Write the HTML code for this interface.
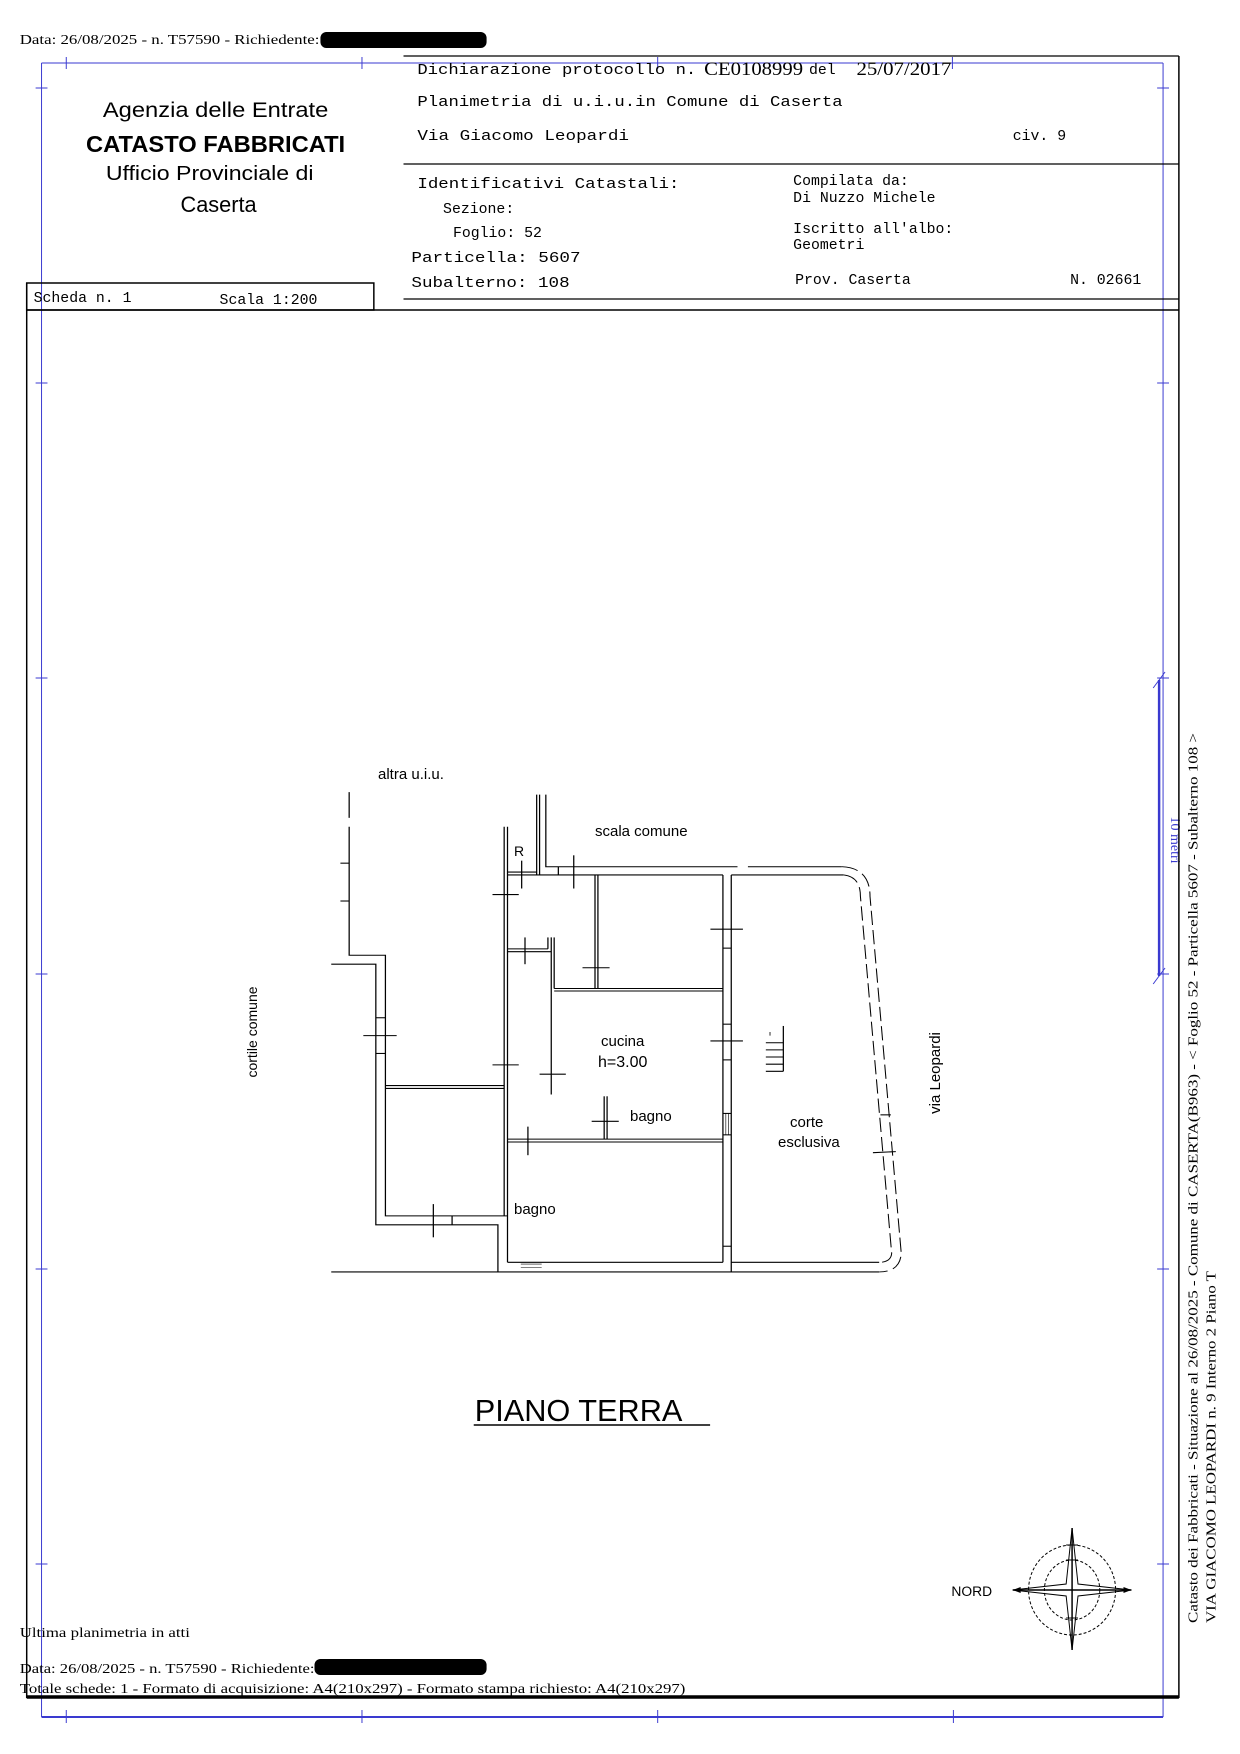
<!DOCTYPE html>
<html><head><meta charset="utf-8"><style>
html,body{margin:0;padding:0;background:#fff;}
svg{display:block}
.m{font-family:"Liberation Mono",monospace;font-size:15px;fill:#000}
.t{font-family:"Liberation Serif",serif;fill:#000}
.s{font-family:"Liberation Sans",sans-serif;fill:#000}
</style></head><body>
<svg width="1240" height="1754" viewBox="0 0 1240 1754" xmlns="http://www.w3.org/2000/svg">
<g transform="scale(0.989,1)">
<text class="t" x="20" y="44" font-size="14" textLength="303" lengthAdjust="spacingAndGlyphs">Data: 26/08/2025 - n. T57590 - Richiedente:</text>
<rect x="324" y="32" width="168" height="16" rx="6" fill="#000"/>

<g stroke="#3a3ad0" stroke-width="1" fill="none">
<line x1="42" y1="63" x2="1176" y2="63"/>
<line x1="42" y1="63" x2="42" y2="1717"/>
<line x1="1176" y1="63" x2="1176" y2="1717"/>
<line x1="42" y1="1717" x2="1176" y2="1717" stroke-width="2"/>
<line x1="67" y1="57" x2="67" y2="69"/><line x1="366" y1="57" x2="366" y2="69"/><line x1="665" y1="57" x2="665" y2="69"/><line x1="963" y1="57" x2="963" y2="69"/>
<line x1="67" y1="1710" x2="67" y2="1723"/><line x1="366" y1="1710" x2="366" y2="1723"/><line x1="665" y1="1710" x2="665" y2="1723"/><line x1="964" y1="1710" x2="964" y2="1723"/>
<line x1="36" y1="88" x2="48" y2="88"/><line x1="36" y1="383" x2="48" y2="383"/><line x1="36" y1="678" x2="48" y2="678"/><line x1="36" y1="974" x2="48" y2="974"/><line x1="36" y1="1269" x2="48" y2="1269"/><line x1="36" y1="1564" x2="48" y2="1564"/>
<line x1="1170" y1="88" x2="1182" y2="88"/><line x1="1170" y1="383" x2="1182" y2="383"/><line x1="1170" y1="678" x2="1182" y2="678"/><line x1="1170" y1="974" x2="1182" y2="974"/><line x1="1170" y1="1269" x2="1182" y2="1269"/><line x1="1170" y1="1564" x2="1182" y2="1564"/>
<line x1="1172" y1="680" x2="1172" y2="976" stroke-width="2.5"/>
<line x1="1166" y1="688" x2="1178" y2="672"/><line x1="1166" y1="984" x2="1178" y2="968"/>
</g>
<text transform="translate(1184,840) rotate(90)" font-family="Liberation Serif,serif" font-size="14" fill="#3a3ad0" text-anchor="middle">10 metri</text>

<g stroke="#000" fill="none">
<line x1="408" y1="56" x2="1192" y2="56" stroke-width="1.2"/>
<line x1="408" y1="164" x2="1192" y2="164" stroke-width="1.2"/>
<line x1="408" y1="299" x2="1192" y2="299" stroke-width="1.2"/>
<line x1="1192" y1="56" x2="1192" y2="1698" stroke-width="1.5"/>
<rect x="27" y="283" width="351" height="27" stroke-width="1.5"/>
<line x1="27" y1="310" x2="1192" y2="310" stroke-width="1.5"/>
<line x1="27" y1="283" x2="27" y2="1698" stroke-width="1.5"/>
<line x1="27" y1="1697" x2="1192" y2="1697" stroke-width="3.5"/>
</g>

<text class="s" x="218" y="117" font-size="21" text-anchor="middle" textLength="228" lengthAdjust="spacingAndGlyphs">Agenzia delle Entrate</text>
<text class="s" x="218" y="152" font-size="23" font-weight="bold" text-anchor="middle" textLength="262" lengthAdjust="spacingAndGlyphs">CATASTO FABBRICATI</text>
<text class="s" x="212" y="180" font-size="20" text-anchor="middle" textLength="210" lengthAdjust="spacingAndGlyphs">Ufficio Provinciale di</text>
<text class="s" x="221" y="212" font-size="22" text-anchor="middle">Caserta</text>

<text class="m" x="422" y="74" textLength="282" lengthAdjust="spacingAndGlyphs">Dichiarazione protocollo n.</text>
<text class="t" x="712" y="75" font-size="19" textLength="100" lengthAdjust="spacingAndGlyphs">CE0108999</text>
<text class="m" x="818" y="74">del</text>
<text class="t" x="866" y="75" font-size="19" textLength="96" lengthAdjust="spacingAndGlyphs">25/07/2017</text>
<text class="m" x="422" y="106" textLength="430" lengthAdjust="spacingAndGlyphs">Planimetria di u.i.u.in Comune di Caserta</text>
<text class="m" x="422" y="140" textLength="214" lengthAdjust="spacingAndGlyphs">Via Giacomo Leopardi</text>
<text class="m" x="1024" y="140">civ. 9</text>
<text class="m" x="422" y="188" textLength="265" lengthAdjust="spacingAndGlyphs">Identificativi Catastali:</text>
<text class="m" x="448" y="213">Sezione:</text>
<text class="m" x="458" y="237">Foglio: 52</text>
<text class="m" x="416" y="262" textLength="171" lengthAdjust="spacingAndGlyphs">Particella: 5607</text>
<text class="m" x="416" y="287" textLength="160" lengthAdjust="spacingAndGlyphs">Subalterno: 108</text>
<text class="m" x="802" y="185">Compilata da:</text>
<text class="m" x="802" y="202">Di Nuzzo Michele</text>
<text class="m" x="802" y="233">Iscritto all'albo:</text>
<text class="m" x="802" y="249">Geometri</text>
<text class="m" x="804" y="284">Prov. Caserta</text>
<text class="m" x="1082" y="284">N. 02661</text>
<text class="m" x="34" y="302">Scheda n. 1</text>
<text class="m" x="222" y="304">Scala 1:200</text>

<text class="s" x="480" y="1421" font-size="31" textLength="210" lengthAdjust="spacingAndGlyphs">PIANO TERRA</text>
<line x1="479" y1="1425" x2="718" y2="1425" stroke="#000" stroke-width="1.5"/>

<g stroke="#000" fill="none">
<ellipse cx="1084" cy="1590" rx="44" ry="45" stroke-dasharray="3,2" stroke-width="1"/>
<ellipse cx="1084" cy="1590" rx="28" ry="30" stroke-dasharray="3,2" stroke-width="1"/>
<line x1="1084" y1="1528" x2="1084" y2="1650" stroke-width="1.5"/>
<line x1="1024" y1="1590" x2="1144" y2="1590" stroke-width="1.5"/>
<path d="M1084,1528 L1090,1584 L1144,1590 L1090,1596 L1084,1650 L1078,1596 L1024,1590 L1078,1584 Z" stroke-width="1"/>
<line x1="1078" y1="1545" x2="1090" y2="1545"/><line x1="1078" y1="1560" x2="1090" y2="1560"/><line x1="1078" y1="1618" x2="1090" y2="1618"/>
</g>
<polygon points="1024,1590 1032,1587 1032,1593" fill="#000"/>
<polygon points="1144,1590 1136,1587 1136,1593" fill="#000"/>
<text class="s" x="962" y="1596" font-size="14">NORD</text>

<text class="t" x="20" y="1637" font-size="14" textLength="172" lengthAdjust="spacingAndGlyphs">Ultima planimetria in atti</text>
<text class="t" x="20" y="1673" font-size="14" textLength="298" lengthAdjust="spacingAndGlyphs">Data: 26/08/2025 - n. T57590 - Richiedente:</text>
<rect x="318" y="1659" width="174" height="16" rx="6" fill="#000"/>
<text class="t" x="20" y="1693" font-size="14" textLength="673" lengthAdjust="spacingAndGlyphs">Totale schede: 1 - Formato di acquisizione: A4(210x297)  - Formato stampa richiesto: A4(210x297)</text>

<text class="t" transform="translate(1211,1623) rotate(-90)" font-size="14" textLength="890" lengthAdjust="spacingAndGlyphs">Catasto dei Fabbricati - Situazione al 26/08/2025 - Comune di CASERTA(B963) - &lt; Foglio 52 - Particella  5607 - Subalterno 108 &gt;</text>
<text class="t" transform="translate(1229,1623) rotate(-90)" font-size="14" textLength="352" lengthAdjust="spacingAndGlyphs">VIA GIACOMO LEOPARDI n. 9  Interno 2 Piano T</text>
</g>

<g transform="translate(300,750) scale(0.41667,0.357)" stroke="#000" stroke-width="3" fill="none">
<line x1="75" y1="1462" x2="1390" y2="1462"/>
<polyline points="75,600 182,600 182,1330 475,1330 475,1462"/>
<polyline points="118,118 118,190"/>
<polyline points="118,215 118,575 205,575 205,1305 498,1305"/>
<line x1="97" y1="317" x2="118" y2="317"/><line x1="97" y1="423" x2="118" y2="423"/>
<line x1="182" y1="750" x2="205" y2="750"/><line x1="182" y1="850" x2="205" y2="850"/>
<line x1="365" y1="1305" x2="365" y2="1330"/>
<line x1="205" y1="940" x2="490" y2="940"/><line x1="205" y1="948" x2="490" y2="948"/>
<line x1="490" y1="215" x2="490" y2="1305"/>
<line x1="498" y1="215" x2="498" y2="1435"/>
<line x1="568" y1="125" x2="568" y2="350"/><line x1="575" y1="125" x2="575" y2="350"/>
<line x1="498" y1="342" x2="568" y2="342"/>
<polyline points="590,125 590,327 1050,327"/>
<line x1="620" y1="327" x2="620" y2="350"/>
<line x1="1075" y1="327" x2="1300" y2="327"/>
<line x1="498" y1="350" x2="1015" y2="350"/>
<line x1="1035" y1="350" x2="1305" y2="350"/>
<line x1="1015" y1="350" x2="1015" y2="1435"/><line x1="1035" y1="350" x2="1035" y2="1462"/>
<line x1="1015" y1="555" x2="1035" y2="555"/><line x1="1015" y1="768" x2="1035" y2="768"/><line x1="1015" y1="868" x2="1035" y2="868"/><line x1="1015" y1="1390" x2="1035" y2="1390"/>
<line x1="1015" y1="1018" x2="1035" y2="1018"/><line x1="1015" y1="1078" x2="1035" y2="1078"/>
<line x1="1022" y1="1018" x2="1022" y2="1078" stroke-width="1.5"/><line x1="1028" y1="1018" x2="1028" y2="1078" stroke-width="1.5"/>
<line x1="498" y1="1435" x2="1015" y2="1435"/><line x1="1035" y1="1435" x2="1390" y2="1435"/>
<line x1="530" y1="1440" x2="580" y2="1440" stroke-width="1.5"/><line x1="530" y1="1450" x2="580" y2="1450" stroke-width="1.5"/>
<line x1="708" y1="350" x2="708" y2="668"/><line x1="715" y1="350" x2="715" y2="668"/>
<line x1="610" y1="668" x2="1015" y2="668"/><line x1="610" y1="675" x2="1015" y2="675"/>
<line x1="603" y1="525" x2="603" y2="965"/><line x1="610" y1="525" x2="610" y2="668"/>
<line x1="498" y1="557" x2="595" y2="557"/><line x1="498" y1="565" x2="603" y2="565"/><line x1="595" y1="525" x2="595" y2="557"/>
<line x1="498" y1="1090" x2="1015" y2="1090"/><line x1="498" y1="1098" x2="1015" y2="1098"/>
<line x1="730" y1="970" x2="730" y2="1090"/><line x1="737" y1="970" x2="737" y2="1090"/>
<line x1="532" y1="310" x2="532" y2="388"/>
<line x1="657" y1="295" x2="657" y2="388"/>
<line x1="462" y1="405" x2="525" y2="405"/>
<line x1="540" y1="525" x2="540" y2="600"/>
<line x1="678" y1="610" x2="743" y2="610"/>
<line x1="985" y1="502" x2="1063" y2="502"/>
<line x1="985" y1="815" x2="1063" y2="815"/>
<line x1="462" y1="882" x2="525" y2="882"/>
<line x1="575" y1="908" x2="638" y2="908"/>
<line x1="700" y1="1040" x2="765" y2="1040"/>
<line x1="547" y1="1055" x2="547" y2="1135"/>
<line x1="320" y1="1272" x2="320" y2="1365"/>
<line x1="152" y1="800" x2="232" y2="800"/>
<line x1="1160" y1="773" x2="1160" y2="900"/>
<line x1="1118" y1="820" x2="1160" y2="820"/><line x1="1118" y1="840" x2="1160" y2="840"/><line x1="1118" y1="860" x2="1160" y2="860"/><line x1="1118" y1="880" x2="1160" y2="880"/><line x1="1118" y1="900" x2="1160" y2="900"/>
<line x1="1128" y1="790" x2="1128" y2="800" stroke-width="2"/>
<g stroke-dasharray="40,14" stroke-width="2.5">
<path d="M1300,327 Q1368,330 1368,410 L1443,1410 Q1440,1462 1390,1462"/>
<path d="M1305,350 Q1345,355 1345,410 L1420,1410 Q1418,1435 1390,1435"/>
</g>
<line x1="1375" y1="1128" x2="1430" y2="1125"/>
<line x1="1393" y1="1022" x2="1418" y2="1022"/>
</g>
<text class="s" x="378" y="779" font-size="15">altra u.i.u.</text>
<text class="s" x="595" y="836" font-size="15">scala comune</text>
<text class="s" x="514" y="856" font-size="14">R</text>
<text class="s" x="601" y="1046" font-size="15">cucina</text>
<text class="s" x="598" y="1067" font-size="16">h=3.00</text>
<text class="s" x="630" y="1121" font-size="15">bagno</text>
<text class="s" x="514" y="1214" font-size="15">bagno</text>
<text class="s" x="790" y="1127" font-size="15">corte</text>
<text class="s" x="778" y="1147" font-size="15">esclusiva</text>
<text class="s" transform="translate(940,1073) rotate(-90)" font-size="15" text-anchor="middle">via Leopardi</text>
<text class="s" transform="translate(257,1032) rotate(-90)" font-size="14" text-anchor="middle">cortile comune</text>
</svg>
</body></html>
